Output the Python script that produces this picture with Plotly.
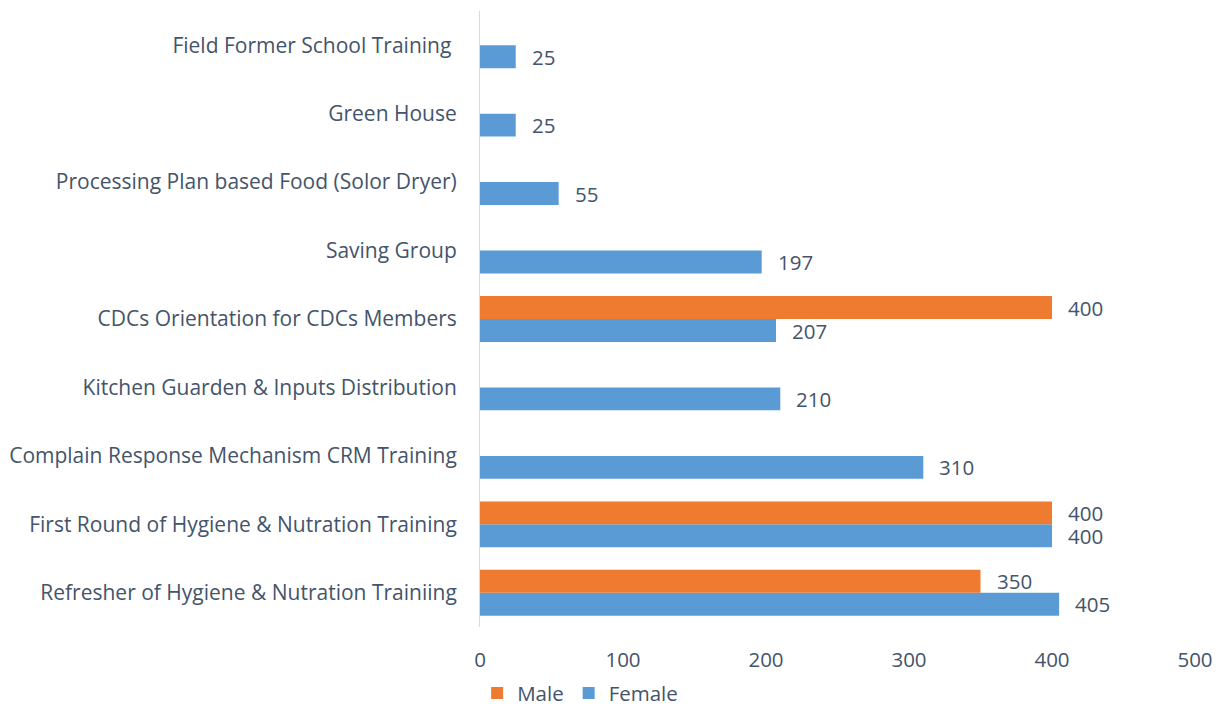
import plotly.graph_objects as go

categories = [
    "Refresher of Hygiene & Nutration Trainiing",
    "First Round of Hygiene & Nutration Training",
    "Complain Response Mechanism CRM Training",
    "Kitchen Guarden & Inputs Distribution",
    "CDCs Orientation for CDCs Members",
    "Saving Group",
    "Processing Plan based Food (Solor Dryer)",
    "Green House",
    "Field Former School Training ",
]
female = [405, 400, 310, 210, 207, 197, 55, 25, 25]
male = [350, 400, None, None, 400, None, None, None, None]
x_ticks = [0, 100, 200, 300, 400, 500]

TEXT = "#44546A"
FONT = "Open Sans"
FS = 20.5

fig = go.Figure()
fig.add_trace(go.Bar(name="Female", y=categories, x=female, orientation="h",
                     marker=dict(color="#5B9BD5", line=dict(width=0))))
fig.add_trace(go.Bar(name="Male", y=categories, x=male, orientation="h",
                     marker=dict(color="#EE7B2F", line=dict(width=0))))

annotations = []
for vals, shift in ((female, -11.5), (male, 11.5)):
    for c, v in zip(categories, vals):
        if v is None:
            continue
        annotations.append(dict(x=v, y=c, xref="x", yref="y", text=str(v),
                                showarrow=False, xanchor="left", xshift=14,
                                yshift=shift, font=dict(size=FS, color=TEXT, family=FONT)))

fig.update_layout(
    width=1227, height=707,
    margin=dict(l=472, r=40, t=3, b=88, autoexpand=False),
    barmode="group", bargap=0.33, bargroupgap=0,
    plot_bgcolor="white", paper_bgcolor="white",
    font=dict(family=FONT, size=FS, color=TEXT),
    annotations=annotations,
    legend=dict(orientation="h", traceorder="reversed", x=-0.004, xanchor="left",
                yref="container", y=0.031, yanchor="middle",
                font=dict(size=FS, color=TEXT), itemwidth=30),
    xaxis=dict(range=[0, 500], tickvals=x_ticks, showgrid=False, zeroline=False,
               showline=False, ticks="", ticklabelstandoff=18, automargin=False,
               tickfont=dict(size=FS, color=TEXT)),
    yaxis=dict(showgrid=False, zeroline=False, showline=True, linecolor="#D9D9D9",
               linewidth=1, ticks="", ticklabelstandoff=18, automargin=False,
               tickfont=dict(size=21, color=TEXT)),
)

fig.write_html("out.html")
